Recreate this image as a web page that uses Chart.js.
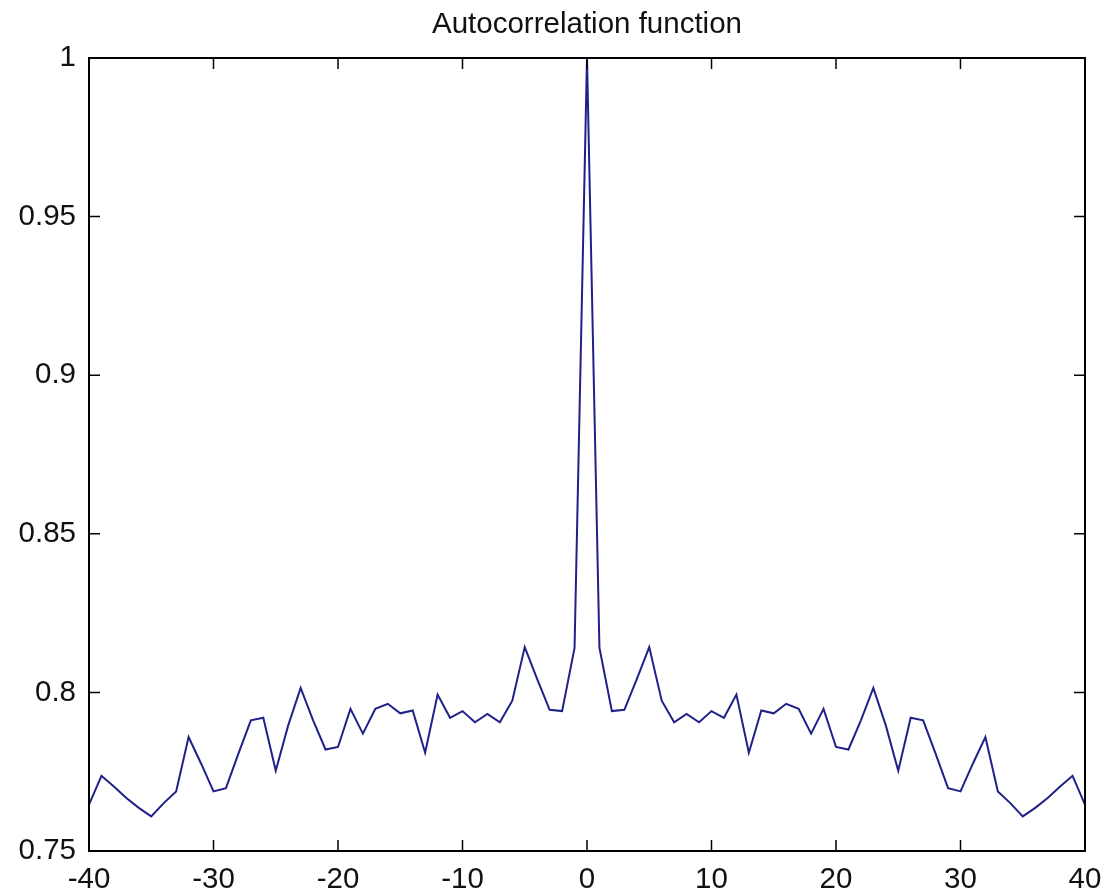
<!DOCTYPE html>
<html>
<head>
<meta charset="utf-8">
<script src="https://cdn.jsdelivr.net/npm/chart.js@4.4.1/dist/chart.umd.min.js"></script>
<style>
  html, body { margin: 0; padding: 0; background: #fff; }
  #wrap { width: 1104px; height: 896px; }
</style>
</head>
<body>
<div id="wrap"><canvas id="acfChart" width="1104" height="896"></canvas></div>
<script>
// lags and autocorrelation values
const lags = [
  -40, -39, -38, -37, -36, -35, -34, -33, -32, -31,
  -30, -29, -28, -27, -26, -25, -24, -23, -22, -21,
  -20, -19, -18, -17, -16, -15, -14, -13, -12, -11,
  -10, -9, -8, -7, -6, -5, -4, -3, -2, -1,
  0,
  1, 2, 3, 4, 5, 6, 7, 8, 9, 10,
  11, 12, 13, 14, 15, 16, 17, 18, 19, 20,
  21, 22, 23, 24, 25, 26, 27, 28, 29, 30,
  31, 32, 33, 34, 35, 36, 37, 38, 39, 40
];

const acfValues = [
  0.7646, 0.7737, 0.7703, 0.7667, 0.7636, 0.7609, 0.7651, 0.7688, 0.7859, 0.7776,
  0.7688, 0.7698, 0.7807, 0.7912, 0.7920, 0.7753, 0.7896, 0.8014, 0.7912, 0.7820,
  0.7828, 0.7948, 0.7870, 0.7948, 0.7964, 0.7934, 0.7943, 0.7810, 0.7993, 0.7920,
  0.7941, 0.7906, 0.7932, 0.7906, 0.7974, 0.8143, 0.8042, 0.7945, 0.7941, 0.8140,
  1.0000,
  0.8140, 0.7941, 0.7945, 0.8042, 0.8143, 0.7974, 0.7906, 0.7932, 0.7906, 0.7941,
  0.7920, 0.7993, 0.7810, 0.7943, 0.7934, 0.7964, 0.7948, 0.7870, 0.7948, 0.7828,
  0.7820, 0.7912, 0.8014, 0.7896, 0.7753, 0.7920, 0.7912, 0.7807, 0.7698, 0.7688,
  0.7776, 0.7859, 0.7688, 0.7651, 0.7609, 0.7636, 0.7667, 0.7703, 0.7737, 0.7646
];

const xTicks = [-40, -30, -20, -10, 0, 10, 20, 30, 40];
const yTicks = [0.75, 0.8, 0.85, 0.9, 0.95, 1];
const chartTitle = 'Autocorrelation function';

const FONT = "'Liberation Sans', Arial, sans-serif";
const FONT_SIZE = 29.5;

// matlab style box with inward tick marks on all four sides,
// title centred over the axes box (not the whole canvas)
const boxTicks = {
  id: 'boxTicks',
  afterDraw(chart) {
    const { ctx, chartArea: a, scales } = chart;
    const len = 11;
    ctx.save();
    ctx.strokeStyle = '#000';
    ctx.lineWidth = 2;
    ctx.strokeRect(a.left, a.top, a.right - a.left, a.bottom - a.top);
    ctx.lineWidth = 1.5;
    ctx.beginPath();
    xTicks.forEach(v => {
      const px = scales.x.getPixelForValue(v);
      ctx.moveTo(px, a.bottom); ctx.lineTo(px, a.bottom - len);
      ctx.moveTo(px, a.top); ctx.lineTo(px, a.top + len);
    });
    yTicks.forEach(v => {
      const py = scales.y.getPixelForValue(v);
      ctx.moveTo(a.left, py); ctx.lineTo(a.left + len, py);
      ctx.moveTo(a.right, py); ctx.lineTo(a.right - len, py);
    });
    ctx.stroke();

    ctx.fillStyle = '#111';
    ctx.font = `${FONT_SIZE}px ${FONT}`;
    ctx.textAlign = 'center';
    ctx.textBaseline = 'alphabetic';
    ctx.fillText(chartTitle, (a.left + a.right) / 2, 33);
    ctx.restore();
  }
};

const ctx = document.getElementById('acfChart').getContext('2d');
new Chart(ctx, {
  type: 'line',
  data: {
    datasets: [{
      data: lags.map((lag, i) => ({ x: lag, y: acfValues[i] })),
      borderColor: '#20208a',
      borderWidth: 2,
      pointRadius: 0,
      tension: 0,
      fill: false
    }]
  },
  options: {
    responsive: false,
    animation: false,
    layout: { padding: { left: 0, right: 19, top: 58, bottom: 0 } },
    plugins: {
      legend: { display: false },
      tooltip: { enabled: false },
      title: { display: false }
    },
    scales: {
      x: {
        type: 'linear',
        min: -40,
        max: 40,
        afterBuildTicks(scale) { scale.ticks = xTicks.map(v => ({ value: v })); },
        afterFit(scale) {
          scale.height = 45;
          scale.paddingLeft = 0;
          scale.paddingRight = 0;
        },
        grid: { display: false, drawTicks: false },
        border: { display: false },
        ticks: {
          color: '#111',
          padding: 11,
          maxRotation: 0,
          font: { family: FONT, size: FONT_SIZE },
          callback: v => String(v)
        }
      },
      y: {
        type: 'linear',
        min: 0.75,
        max: 1,
        afterBuildTicks(scale) { scale.ticks = yTicks.map(v => ({ value: v })); },
        afterFit(scale) {
          scale.width = 89;
          scale.paddingTop = 0;
          scale.paddingBottom = 0;
        },
        grid: { display: false, drawTicks: false },
        border: { display: false },
        ticks: {
          color: '#111',
          padding: 13,
          font: { family: FONT, size: FONT_SIZE },
          callback: v => String(parseFloat(v.toFixed(2)))
        }
      }
    }
  },
  plugins: [boxTicks]
});
</script>
</body>
</html>
